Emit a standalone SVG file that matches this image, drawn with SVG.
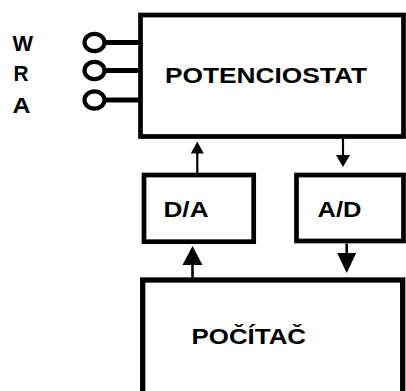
<svg xmlns="http://www.w3.org/2000/svg" width="406" height="391" viewBox="0 0 406 391">
<style>
.box{fill:#fff;stroke:#000;stroke-width:4.7}
.lbl{font-family:"Liberation Sans",Arial,sans-serif;font-weight:bold;font-size:22px;fill:#000}
.pin{fill:none;stroke:#000;stroke-width:4.2}
.lead{stroke:#000;stroke-width:5}
.ln{stroke:#000;stroke-width:2.2}
.ln2{stroke:#000;stroke-width:2.6}
</style>
<rect width="406" height="391" fill="#fff"/>
<g id="terminals">
  <text class="lbl" x="12.5" y="51" textLength="20.5" lengthAdjust="spacingAndGlyphs">W</text>
  <text class="lbl" x="13.5" y="81" textLength="15" lengthAdjust="spacingAndGlyphs">R</text>
  <text class="lbl" x="12.5" y="113" textLength="18" lengthAdjust="spacingAndGlyphs">A</text>
  <line class="lead" x1="105" y1="42.5" x2="140" y2="42.5"/>
  <line class="lead" x1="105" y1="70.5" x2="140" y2="70.5"/>
  <line class="lead" x1="105" y1="100" x2="140" y2="100"/>
  <ellipse class="pin" cx="94.5" cy="42.5" rx="10" ry="8.7"/>
  <ellipse class="pin" cx="94.5" cy="70.5" rx="10" ry="8.7"/>
  <ellipse class="pin" cx="94.5" cy="100" rx="10" ry="8.7"/>
</g>
<g id="potenciostat">
  <rect class="box" x="140.5" y="15" width="263" height="121.5"/>
  <text class="lbl" x="165" y="82.5" textLength="202" lengthAdjust="spacingAndGlyphs">POTENCIOSTAT</text>
</g>
<g id="da">
  <rect class="box" x="144" y="175" width="109.7" height="66.7"/>
  <text class="lbl" x="163.5" y="216.5" textLength="45" lengthAdjust="spacingAndGlyphs">D/A</text>
</g>
<g id="ad">
  <rect class="box" x="296.5" y="175" width="107" height="66"/>
  <text class="lbl" x="317.5" y="216.5" textLength="44" lengthAdjust="spacingAndGlyphs">A/D</text>
</g>
<g id="pocitac">
  <rect x="142.7" y="280" width="260" height="140" fill="#fff" stroke="#000" stroke-width="5.3"/>
  <text class="lbl" x="191.5" y="344.3" textLength="114.5" lengthAdjust="spacingAndGlyphs">POČÍTAČ</text>
</g>
<g id="connectors">
  <line class="ln" x1="197.3" y1="172.7" x2="197.3" y2="152"/>
  <polygon points="197.3,141.5 190.8,153.5 203.8,153.5"/>
  <line class="ln" x1="343" y1="138.5" x2="343" y2="156"/>
  <polygon points="343,167 336,155 350,155"/>
  <line class="ln2" x1="192.5" y1="277.5" x2="192.5" y2="263"/>
  <polygon points="192.5,246 182.5,265 202.5,265"/>
  <line class="ln2" x1="346.7" y1="243.5" x2="346.7" y2="255"/>
  <polygon points="346.7,273 337.2,253 356.2,253"/>
</g>
</svg>
